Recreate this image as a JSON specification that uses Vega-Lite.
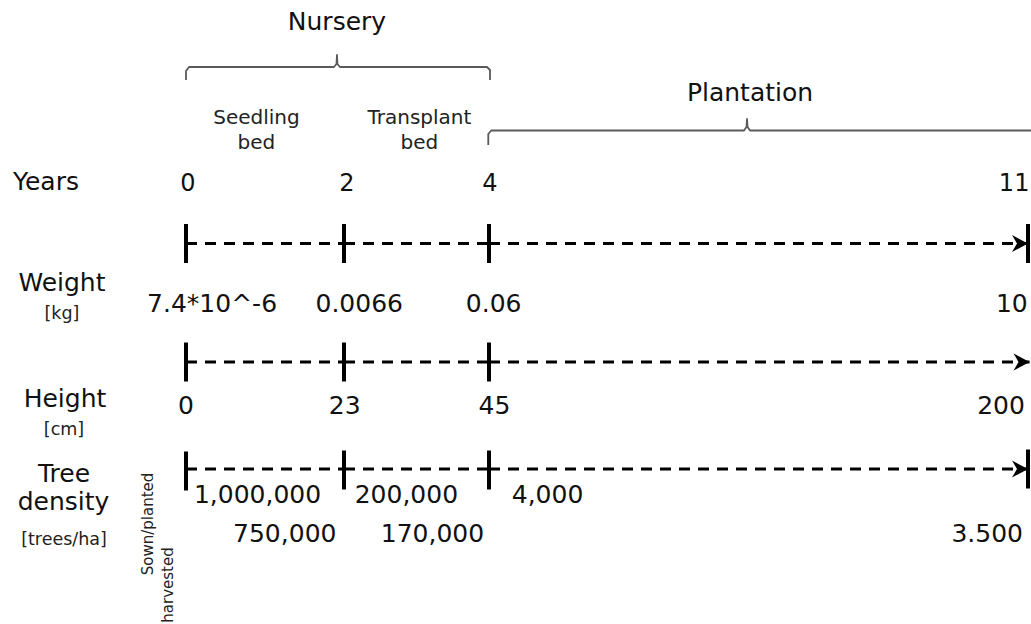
{
  "$schema": "https://vega.github.io/schema/vega-lite/v6.json",
  "width": 1031,
  "height": 624,
  "padding": 0,
  "autosize": "none",
  "background": "white",
  "config": {"view": {"stroke": null}, "text": {"font": "DejaVu Sans"}},
  "datasets": {
    "braces": [
      {"brace": "Nursery", "seq": 1, "year": 0, "level": 80},
      {"brace": "Nursery", "seq": 2, "year": 0, "level": 71},
      {"brace": "Nursery", "seq": 3, "year": 0.038, "level": 67},
      {"brace": "Nursery", "seq": 4, "year": 1.873, "level": 67},
      {"brace": "Nursery", "seq": 5, "year": 1.905, "level": 64},
      {"brace": "Nursery", "seq": 6, "year": 1.911, "level": 55},
      {"brace": "Nursery", "seq": 7, "year": 1.917, "level": 64},
      {"brace": "Nursery", "seq": 8, "year": 1.949, "level": 67},
      {"brace": "Nursery", "seq": 9, "year": 3.972, "level": 67},
      {"brace": "Nursery", "seq": 10, "year": 4.013, "level": 70},
      {"brace": "Nursery", "seq": 11, "year": 4.013, "level": 80},
      {"brace": "Plantation", "seq": 1, "year": 3.99, "level": 145},
      {"brace": "Plantation", "seq": 2, "year": 3.99, "level": 134},
      {"brace": "Plantation", "seq": 3, "year": 4.03, "level": 130.5},
      {"brace": "Plantation", "seq": 4, "year": 7.312, "level": 130.5},
      {"brace": "Plantation", "seq": 5, "year": 7.344, "level": 127},
      {"brace": "Plantation", "seq": 6, "year": 7.351, "level": 119},
      {"brace": "Plantation", "seq": 7, "year": 7.358, "level": 127},
      {"brace": "Plantation", "seq": 8, "year": 7.39, "level": 130.5},
      {"brace": "Plantation", "seq": 9, "year": 11.3, "level": 130.5}
    ],
    "segments": [
      {"track": "Weight", "year": 0, "year_end": 2, "level": 243.5},
      {"track": "Weight", "year": 2, "year_end": 4, "level": 243.5},
      {"track": "Weight", "year": 4, "year_end": 11, "level": 243.5},
      {"track": "Height", "year": 0, "year_end": 2, "level": 362},
      {"track": "Height", "year": 2, "year_end": 4, "level": 362},
      {"track": "Height", "year": 4, "year_end": 11.02, "level": 362},
      {"track": "Tree density", "year": 0, "year_end": 2, "level": 469},
      {"track": "Tree density", "year": 2, "year_end": 4, "level": 469},
      {"track": "Tree density", "year": 4, "year_end": 11, "level": 469}
    ],
    "ticks": [
      {"track": "Weight", "year": 0, "level": 243.5},
      {"track": "Weight", "year": 2, "level": 243.5},
      {"track": "Weight", "year": 4, "level": 243.5},
      {"track": "Weight", "year": 11, "level": 243.5},
      {"track": "Height", "year": 0, "level": 362},
      {"track": "Height", "year": 2, "level": 362},
      {"track": "Height", "year": 4, "level": 362},
      {"track": "Tree density", "year": 0, "level": 471},
      {"track": "Tree density", "year": 2, "level": 470},
      {"track": "Tree density", "year": 4, "level": 470},
      {"track": "Tree density", "year": 11, "level": 469}
    ],
    "arrows": [
      {"track": "Weight", "year": 11, "level": 243.5},
      {"track": "Height", "year": 11.02, "level": 362},
      {"track": "Tree density", "year": 11, "level": 469}
    ],
    "texts": [
      {"text": "Nursery", "kind": "title", "year": 1.911, "level": 30},
      {"text": "Plantation", "kind": "title", "year": 7.39, "level": 100.5},
      {"text": "Seedling", "kind": "stage", "year": 0.892, "level": 124},
      {"text": "bed", "kind": "stage", "year": 0.892, "level": 148.5},
      {"text": "Transplant", "kind": "stage", "year": 3.04, "level": 124},
      {"text": "bed", "kind": "stage", "year": 3.04, "level": 148.5},
      {"text": "Years", "kind": "row", "year": -1.772, "level": 190},
      {"text": "Weight", "kind": "row", "year": -1.57, "level": 291},
      {"text": "Height", "kind": "row", "year": -1.532, "level": 406.5},
      {"text": "Tree", "kind": "row", "year": -1.544, "level": 481.5},
      {"text": "density", "kind": "row", "year": -1.551, "level": 510},
      {"text": "[kg]", "kind": "unit", "year": -1.57, "level": 319},
      {"text": "[cm]", "kind": "unit", "year": -1.544, "level": 434.5},
      {"text": "[trees/ha]", "kind": "unit", "year": -1.544, "level": 544.5},
      {"text": "0", "kind": "yearnum", "year": 0.025, "level": 190.5},
      {"text": "2", "kind": "yearnum", "year": 2.04, "level": 190.5},
      {"text": "4", "kind": "yearnum", "year": 4.01, "level": 190.5},
      {"text": "11", "kind": "yearnum", "year": 10.82, "level": 190.5},
      {"text": "7.4*10^-6", "kind": "value", "year": 0.33, "level": 312},
      {"text": "0.0066", "kind": "value", "year": 2.21, "level": 312},
      {"text": "0.06", "kind": "value", "year": 4.06, "level": 312},
      {"text": "10", "kind": "value", "year": 10.79, "level": 312},
      {"text": "0", "kind": "value", "year": 0.0, "level": 414},
      {"text": "23", "kind": "value", "year": 2.01, "level": 414},
      {"text": "45", "kind": "value", "year": 4.07, "level": 414},
      {"text": "200", "kind": "value", "year": 10.65, "level": 414},
      {"text": "1,000,000", "kind": "value", "year": 0.905, "level": 503},
      {"text": "200,000", "kind": "value", "year": 2.86, "level": 503},
      {"text": "4,000", "kind": "value", "year": 4.76, "level": 503},
      {"text": "750,000", "kind": "value", "year": 1.25, "level": 542},
      {"text": "170,000", "kind": "value", "year": 3.22, "level": 542},
      {"text": "3.500", "kind": "value", "year": 10.47, "level": 542},
      {"text": "Sown/planted", "kind": "note", "year": -0.481, "level": 524},
      {"text": "harvested", "kind": "note", "year": -0.228, "level": 585}
    ]
  },
  "encoding": {
    "x": {"field": "year", "type": "quantitative", "axis": null,
          "scale": {"domain": [0, 2, 4, 11], "range": [186, 344, 489, 1028], "nice": false, "zero": false}},
    "y": {"field": "level", "type": "quantitative", "axis": null,
          "scale": {"domain": [0, 624], "range": [0, 624], "nice": false, "zero": false}}
  },
  "layer": [
    {
      "data": {"name": "braces"},
      "mark": {"type": "line", "color": "#5a5a5a", "strokeWidth": 1.8, "clip": true, "strokeJoin": "round"},
      "encoding": {"detail": {"field": "brace"}, "order": {"field": "seq", "type": "quantitative"}}
    },
    {
      "data": {"name": "segments"},
      "mark": {"type": "rule", "color": "black", "strokeWidth": 3, "strokeDash": [11, 8], "clip": true},
      "encoding": {"x2": {"field": "year_end"}}
    },
    {
      "data": {"name": "ticks"},
      "mark": {"type": "rule", "color": "black", "strokeWidth": 4, "yOffset": -19.5, "y2Offset": 19.5, "clip": true},
      "encoding": {"y2": {"field": "level"}}
    },
    {
      "data": {"name": "arrows"},
      "mark": {"type": "point", "shape": "M0,0 L-1.6,-0.85 L-1.1,0 L-1.6,0.85 Z", "size": 400, "filled": true, "color": "black", "opacity": 1, "strokeWidth": 0, "clip": true},
      "encoding": {}
    },
    {
      "data": {"name": "texts"},
      "transform": [{"filter": "datum.kind === 'title'"}],
      "mark": {"type": "text", "fontSize": 25, "color": "#111", "align": "center", "baseline": "alphabetic", "clip": true},
      "encoding": {"text": {"field": "text"}}
    },
    {
      "data": {"name": "texts"},
      "transform": [{"filter": "datum.kind === 'stage'"}],
      "mark": {"type": "text", "fontSize": 20, "color": "#222", "align": "center", "baseline": "alphabetic", "clip": true},
      "encoding": {"text": {"field": "text"}}
    },
    {
      "data": {"name": "texts"},
      "transform": [{"filter": "datum.kind === 'row'"}],
      "mark": {"type": "text", "fontSize": 25, "color": "#111", "align": "center", "baseline": "alphabetic", "clip": true},
      "encoding": {"text": {"field": "text"}}
    },
    {
      "data": {"name": "texts"},
      "transform": [{"filter": "datum.kind === 'unit'"}],
      "mark": {"type": "text", "fontSize": 17.5, "color": "#222", "align": "center", "baseline": "alphabetic", "clip": true},
      "encoding": {"text": {"field": "text"}}
    },
    {
      "data": {"name": "texts"},
      "transform": [{"filter": "datum.kind === 'yearnum'"}],
      "mark": {"type": "text", "fontSize": 24, "color": "#111", "align": "center", "baseline": "alphabetic", "clip": true},
      "encoding": {"text": {"field": "text"}}
    },
    {
      "data": {"name": "texts"},
      "transform": [{"filter": "datum.kind === 'value'"}],
      "mark": {"type": "text", "fontSize": 25, "color": "#111", "align": "center", "baseline": "alphabetic", "clip": true},
      "encoding": {"text": {"field": "text"}}
    },
    {
      "data": {"name": "texts"},
      "transform": [{"filter": "datum.kind === 'note'"}],
      "mark": {"type": "text", "fontSize": 15, "color": "#222", "align": "center", "baseline": "middle", "angle": 270, "clip": true},
      "encoding": {"text": {"field": "text"}}
    }
  ]
}
